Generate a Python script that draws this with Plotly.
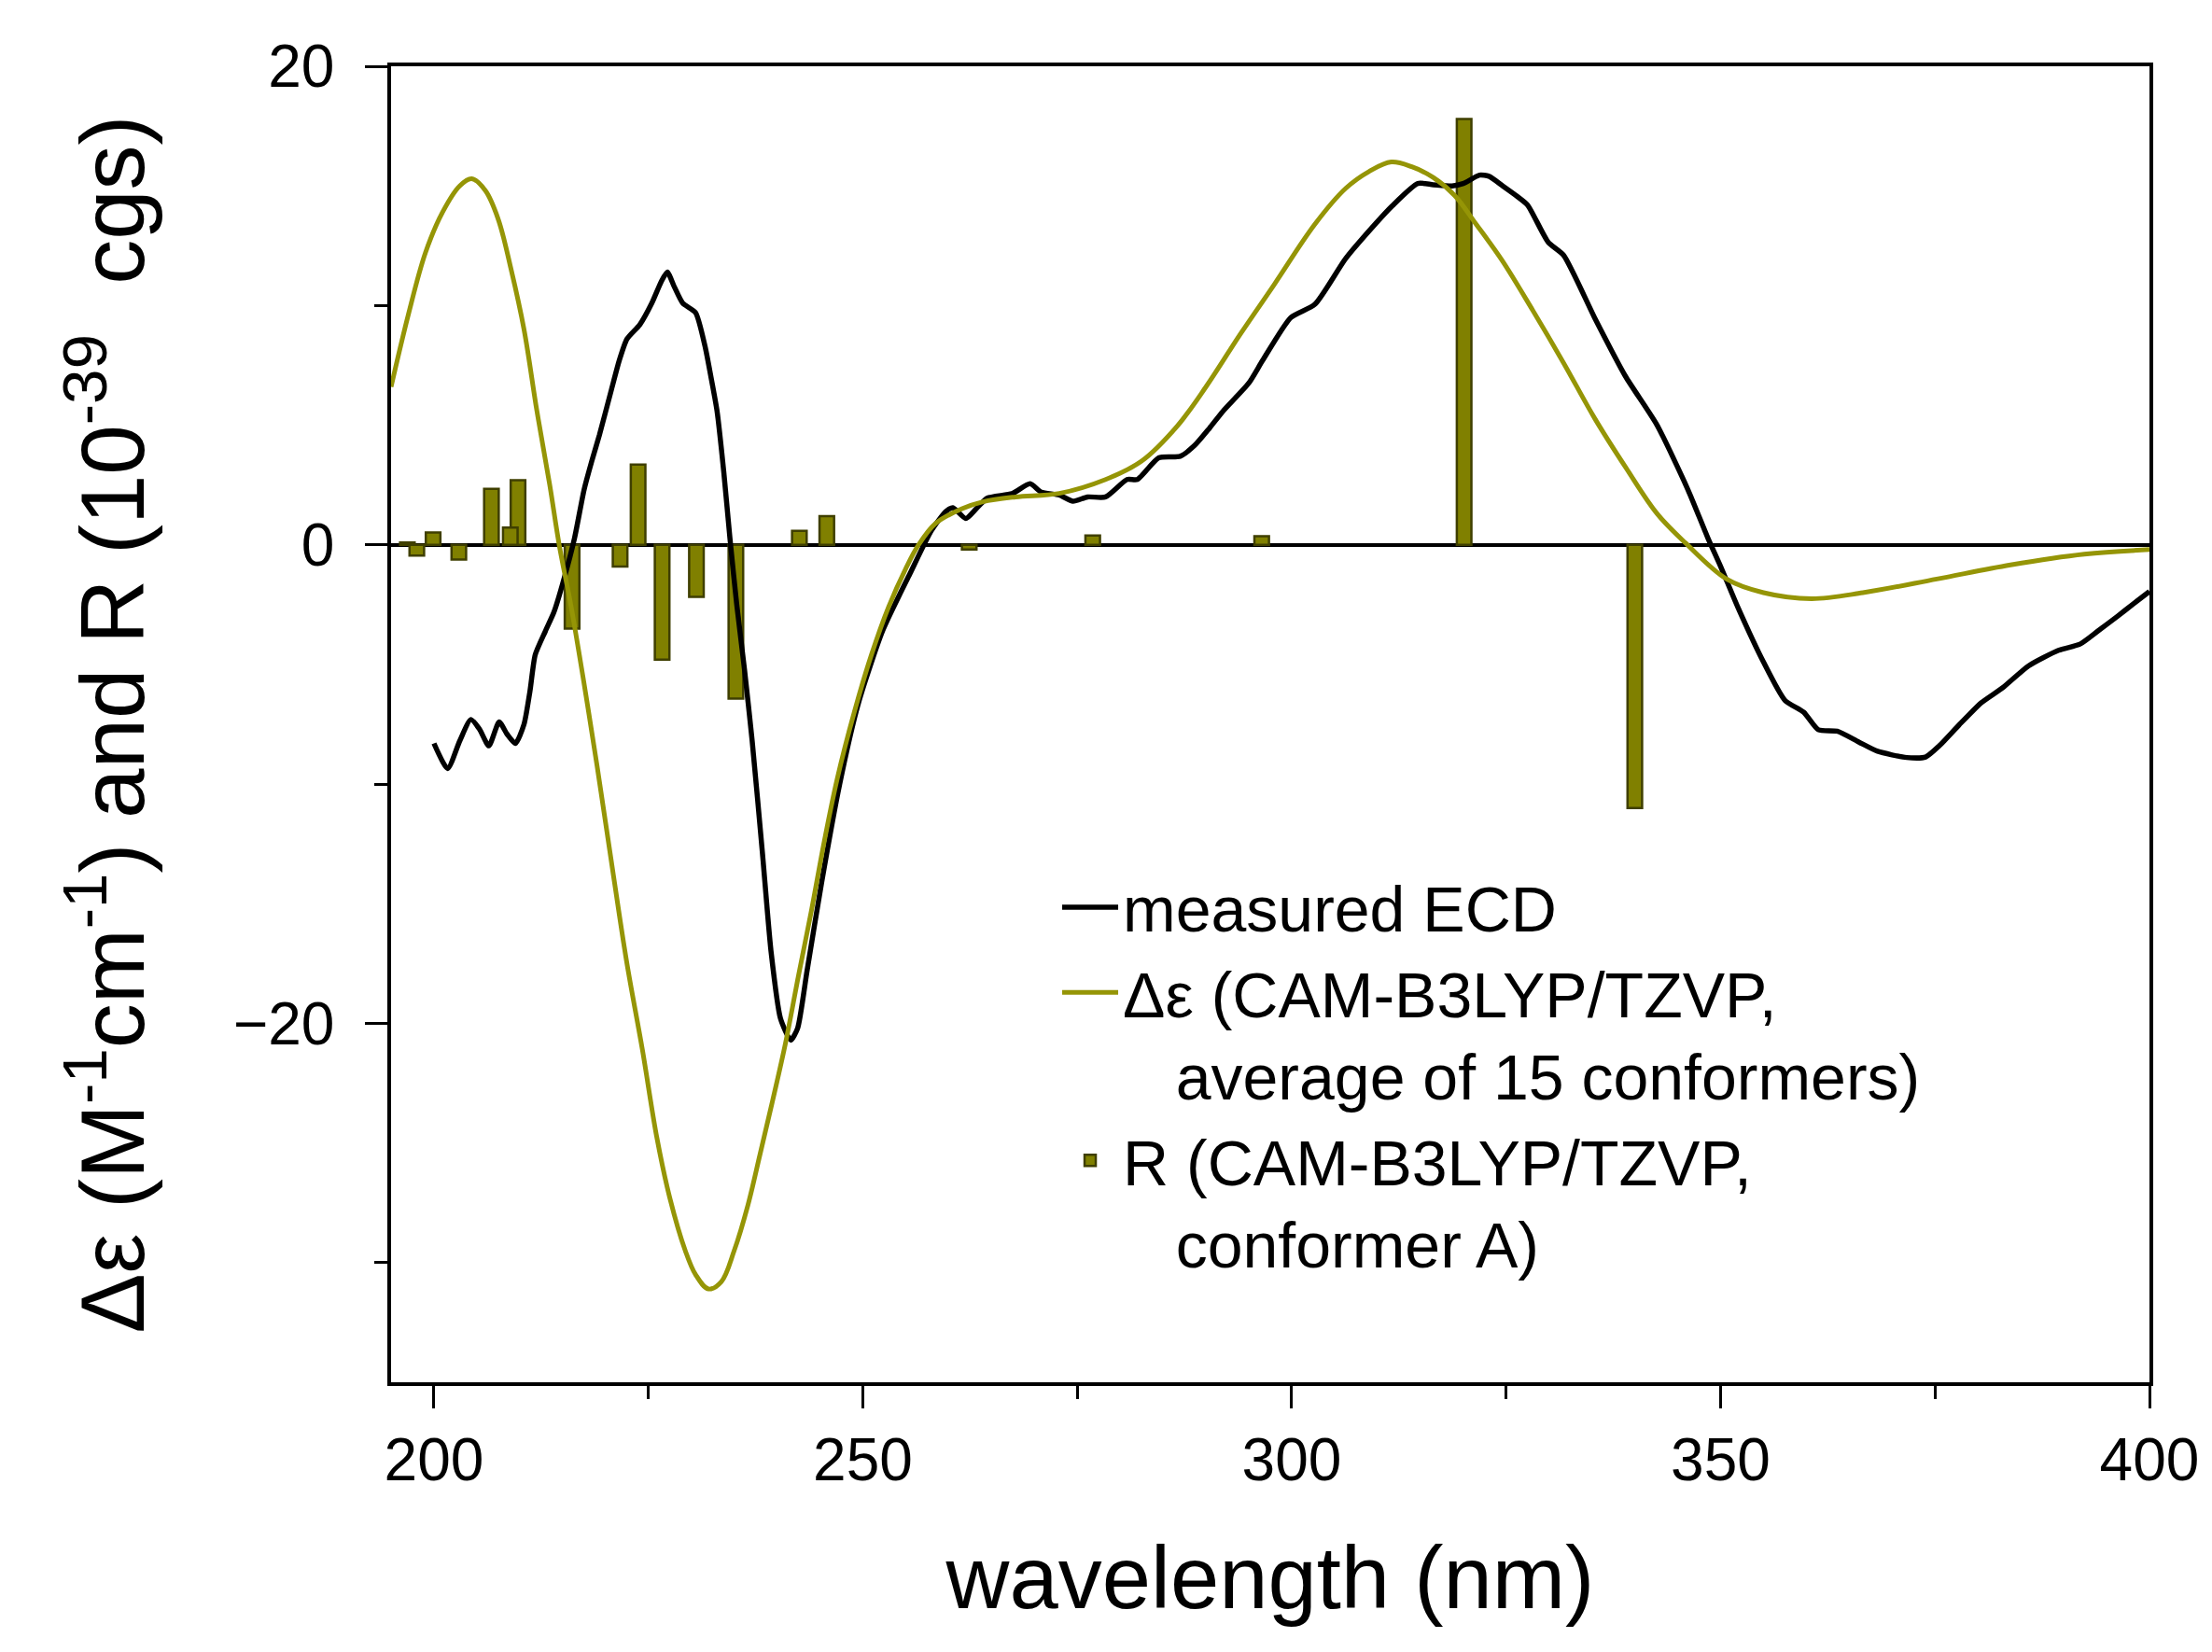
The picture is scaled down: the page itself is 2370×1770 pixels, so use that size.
import plotly.graph_objects as go

# ---------------- data ----------------
wl_measured = [200, 201.6, 203, 204.3, 205.3, 206.4, 207.6, 208.5, 209.5, 210.5, 211.2, 211.8,
               213, 214, 215.1, 216.4, 217.5, 218.4, 219.3, 220.7, 221.6, 222.5, 224, 225.4,
               226.5, 227.2, 228, 229, 230.5, 231.6, 232.3, 233, 233.8, 234.5, 235.3, 236.2,
               237.1, 238.3, 239.3, 240.4, 241.6, 242.4, 243.5, 245.2, 247.3, 249.5, 252.3,
               255.5, 258, 259.7, 260.5, 262, 263.2, 264.5, 267.4, 269.5, 270.8, 272.9, 274.5,
               276.2, 278.3, 280.8, 282, 284.5, 287, 288.7, 290.4, 292, 295, 296.6, 299.9,
               302.7, 306.3, 309.9, 311.7, 314.7, 316.5, 318.7, 320, 321.9, 323, 324.6, 326.3,
               327.5, 329.9, 331.7, 335.3, 338.9, 342.6, 346.2, 348.5, 350, 352, 355, 357.5,
               359.7, 361.4, 363.6, 366.1, 368.3, 371.7, 373.9, 375.5, 377.8, 380.4, 382.9,
               385.9, 389.4, 391.9, 394, 396.3, 398, 400]
de_measured = [-8.3, -9.35, -8.2, -7.3, -7.7, -8.4, -7.4, -7.9, -8.3, -7.5, -6.1, -4.6,
               -3.6, -2.8, -1.5, 0.3, 2.3, 3.5, 4.6, 6.5, 7.7, 8.6, 9.2, 10.1,
               11.0, 11.4, 10.8, 10.1, 9.7, 8.3, 7.0, 5.6, 3.0, 0.3, -2.5, -5.2,
               -8.2, -12.9, -17.0, -19.8, -20.7, -20.2, -17.8, -14.1, -10.0, -6.6, -3.6,
               -1.2, 0.6, 1.4, 1.55, 1.1, 1.5, 1.95, 2.14, 2.55, 2.2, 2.08, 1.82,
               2.0, 2.0, 2.73, 2.73, 3.64, 3.7, 4.16, 4.87, 5.59, 6.76, 7.7, 9.5,
               10.05, 11.97, 13.47, 14.16, 15.1, 15.05, 15.0, 15.1, 15.45, 15.4, 15.0, 14.56,
               14.2, 12.65, 12.1, 9.5, 7.05, 5.0, 2.3, 0.3, -0.9, -2.6, -4.9, -6.5,
               -7.0, -7.73, -7.79, -8.24, -8.63, -8.89, -8.87, -8.4, -7.53, -6.6, -5.97,
               -5.06, -4.41, -4.15, -3.6, -2.98, -2.5, -1.95]

wl_calc = [195, 197, 199, 201, 203, 204.4, 206, 207.5, 209, 210.5, 212, 213.5, 214.6, 216,
           217.5, 219, 221, 222.5, 224.3, 226, 227.5, 229.3, 230.5, 232, 233.5, 235, 236.6,
           238, 239.5, 241, 242.5, 244, 245.5, 247, 249, 251, 253, 255, 256.5, 258.5, 261.5,
           264, 267.8, 272.9, 278.3, 282.5, 286.6, 290, 294, 298, 302.7, 306.3, 309, 311.6,
           314, 316.5, 319, 321.5, 324.5, 328.1, 331.7, 335.3, 339, 342.6, 345.9, 350.7,
           355, 360.6, 366.6, 375.2, 383.8, 392.4, 400]
de_calc = [6.6, 9.6, 12.2, 13.9, 15.0, 15.3, 14.8, 13.6, 11.5, 9.0, 5.6, 2.5, 0.0, -2.6,
           -5.8, -9.2, -14.0, -17.5, -21.1, -24.8, -27.3, -29.5, -30.5, -31.1, -30.8, -29.5, -27.6,
           -25.5, -23.2, -20.8, -18.0, -15.3, -12.4, -9.8, -7.0, -4.6, -2.6, -1.0, 0.0, 0.9, 1.5,
           1.8, 2.0, 2.15, 2.73, 3.5, 4.94, 6.6, 8.8, 10.9, 13.4, 14.9, 15.6, 16.0,
           15.8, 15.35, 14.6, 13.4, 11.9, 9.8, 7.6, 5.3, 3.2, 1.3, 0.08, -1.43,
           -2.0, -2.25, -2.0, -1.43, -0.84, -0.39, -0.2]

wl_R = [196.9, 198.0, 199.9, 202.9, 206.7, 209.8, 208.9, 216.1, 221.7, 223.8, 226.6, 230.6,
        235.2, 242.6, 245.8, 262.4, 276.8, 296.5, 320.1, 340.0]
R_vals = [0.1, -0.45, 0.52, -0.62, 2.34, 2.7, 0.72, -3.5, -0.91, 3.35, -4.8, -2.18,
          -6.43, 0.58, 1.2, -0.2, 0.39, 0.36, 17.8, -11.0]

x_range = [195, 400]
y_range = [-35, 20]

FONT = "Liberation Sans, Arial, sans-serif"
OLIVE_LINE = "#959506"
OLIVE_BAR = "#808000"
OLIVE_EDGE = "#3f3f00"

fig = go.Figure()
fig.add_trace(go.Scatter(x=wl_measured, y=de_measured, mode="lines", line_shape="spline",
                         line=dict(color="black", width=5.5, smoothing=0.6),
                         name="measured ECD"))
fig.add_trace(go.Scatter(x=wl_calc, y=de_calc, mode="lines", line_shape="spline",
                         line=dict(color=OLIVE_LINE, width=5),
                         name="\u0394\u03b5 (CAM-B3LYP/TZVP,<br>\u00a0\u00a0\u00a0average of 15 conformers)"))
fig.add_trace(go.Bar(x=wl_R, y=R_vals, width=1.7,
                     marker=dict(color=OLIVE_BAR, line=dict(color=OLIVE_EDGE, width=2.5)),
                     name="R (CAM-B3LYP/TZVP,<br>\u00a0\u00a0\u00a0conformer A)"))

axis_common = dict(showline=True, linecolor="black", linewidth=3.5, mirror=True,
                   ticks="outside", tickcolor="black", tickwidth=3, ticklen=24,
                   showgrid=False,
                   tickfont=dict(family=FONT, size=64, color="black"))

fig.update_layout(
    width=2370, height=1770,
    paper_bgcolor="white", plot_bgcolor="white",
    margin=dict(l=411, r=75, t=63, b=297),
    font=dict(family=FONT, color="black"),
    showlegend=True,
    legend=dict(x=0.379, y=0.397, xanchor="left", yanchor="top",
                bgcolor="rgba(0,0,0,0)", font=dict(family=FONT, size=68, color="black"),
                valign="top", itemwidth=60, traceorder="normal"),
    xaxis=dict(range=x_range, dtick=50, tick0=0,
               minor=dict(dtick=25, ticks="outside", ticklen=14, tickwidth=3, tickcolor="black"),
               title=dict(text="wavelength (nm)", font=dict(family=FONT, size=94, color="black"),
                          standoff=60),
               zeroline=False, **axis_common),
    yaxis=dict(range=y_range, dtick=20, tick0=0, ticklabelstandoff=20,
               minor=dict(dtick=10, ticks="outside", ticklen=14, tickwidth=3, tickcolor="black"),
               title=dict(text="\u0394\u03b5 (M<sup>-1</sup>cm<sup>-1</sup>) and R (10<sup>-39</sup>  cgs)",
                          font=dict(family=FONT, size=96, color="black"), standoff=64),
               zeroline=True, zerolinecolor="black", zerolinewidth=4, **axis_common),
)

fig.write_html("out.html")
